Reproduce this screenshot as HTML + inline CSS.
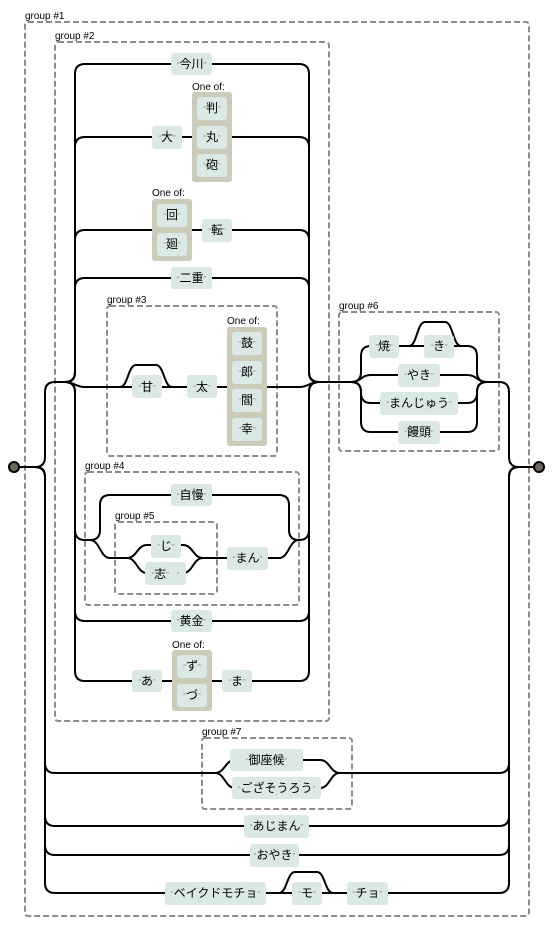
<!DOCTYPE html>
<html><head><meta charset="utf-8"><style>
html,body{margin:0;padding:0;background:#fff;}
svg{display:block;}
text{font-family:"Liberation Sans","Noto Sans CJK JP",sans-serif;}
.lbl{font-size:12px;fill:#000;}
.q{font-size:8px;fill:#888;}
.cap{font-size:10px;fill:#000;}
.box{fill:#dae9e5;}
.oneof{fill:#cbcbba;}
.grp{fill:none;stroke:#908c83;stroke-width:2;stroke-dasharray:6,3;}
#paths path{fill:none;stroke:#000;stroke-width:2;}
</style></head><body>
<svg id="s" width="554" height="926" viewBox="0 0 554 926" xmlns="http://www.w3.org/2000/svg">
<rect class="grp" x="25" y="22" width="504" height="894" rx="3"/>
<text class="cap" x="25" y="19">group #1</text>
<rect class="grp" x="55" y="42" width="274" height="679" rx="3"/>
<text class="cap" x="55" y="39">group #2</text>
<rect class="grp" x="107" y="306" width="170" height="150" rx="3"/>
<text class="cap" x="107" y="303">group #3</text>
<rect class="grp" x="85" y="472" width="214" height="133" rx="3"/>
<text class="cap" x="85" y="469">group #4</text>
<rect class="grp" x="115" y="522" width="102" height="72" rx="3"/>
<text class="cap" x="115" y="519">group #5</text>
<rect class="grp" x="339" y="312" width="160" height="139" rx="3"/>
<text class="cap" x="339" y="309">group #6</text>
<rect class="grp" x="202" y="738" width="150" height="71" rx="3"/>
<text class="cap" x="202" y="735">group #7</text>
<g id="paths"></g>
<circle cx="14" cy="467" r="5" fill="#6b6659" stroke="#000" stroke-width="2"/>
<circle cx="539" cy="467" r="5" fill="#6b6659" stroke="#000" stroke-width="2"/>

<text class="cap" x="192" y="90">One of:</text>
<rect class="oneof" x="192" y="92" width="40" height="90" rx="3"/>
<text class="cap" x="152" y="196">One of:</text>
<rect class="oneof" x="152" y="199" width="40" height="62" rx="3"/>
<text class="cap" x="227" y="324">One of:</text>
<rect class="oneof" x="227" y="327" width="40" height="119" rx="3"/>
<text class="cap" x="172" y="648">One of:</text>
<rect class="oneof" x="172" y="650" width="40" height="61" rx="3"/>

<g id="boxes"></g>
<g id="texts">
<text class="lbl" x="191.5" y="68" text-anchor="middle"><tspan class="q">“</tspan>今川<tspan class="q">”</tspan></text>
<text class="lbl" x="167" y="141" text-anchor="middle"><tspan class="q">“</tspan>大<tspan class="q">”</tspan></text>
<text class="lbl" x="212" y="112" text-anchor="middle"><tspan class="q">“</tspan>判<tspan class="q">”</tspan></text>
<text class="lbl" x="212" y="141" text-anchor="middle"><tspan class="q">“</tspan>丸<tspan class="q">”</tspan></text>
<text class="lbl" x="212" y="169" text-anchor="middle"><tspan class="q">“</tspan>砲<tspan class="q">”</tspan></text>
<text class="lbl" x="172" y="219" text-anchor="middle"><tspan class="q">“</tspan>回<tspan class="q">”</tspan></text>
<text class="lbl" x="172" y="248" text-anchor="middle"><tspan class="q">“</tspan>廻<tspan class="q">”</tspan></text>
<text class="lbl" x="217" y="234" text-anchor="middle"><tspan class="q">“</tspan>転<tspan class="q">”</tspan></text>
<text class="lbl" x="191.5" y="282" text-anchor="middle"><tspan class="q">“</tspan>二重<tspan class="q">”</tspan></text>
<text class="lbl" x="147" y="391" text-anchor="middle"><tspan class="q">“</tspan>甘<tspan class="q">”</tspan></text>
<text class="lbl" x="202" y="391" text-anchor="middle"><tspan class="q">“</tspan>太<tspan class="q">”</tspan></text>
<text class="lbl" x="247" y="347" text-anchor="middle"><tspan class="q">“</tspan>鼓<tspan class="q">”</tspan></text>
<text class="lbl" x="247" y="376" text-anchor="middle"><tspan class="q">“</tspan>郎<tspan class="q">”</tspan></text>
<text class="lbl" x="247" y="404" text-anchor="middle"><tspan class="q">“</tspan>閻<tspan class="q">”</tspan></text>
<text class="lbl" x="247" y="433" text-anchor="middle"><tspan class="q">“</tspan>幸<tspan class="q">”</tspan></text>
<text class="lbl" x="191.5" y="499" text-anchor="middle"><tspan class="q">“</tspan>自慢<tspan class="q">”</tspan></text>
<text class="lbl" x="166" y="550" text-anchor="middle"><tspan class="q">“</tspan>じ<tspan class="q">”</tspan></text>
<text class="lbl" x="165.5" y="578" text-anchor="middle"><tspan class="q">“</tspan>志<tspan class="q">”　”</tspan></text>
<text class="lbl" x="247.5" y="562" text-anchor="middle"><tspan class="q">“</tspan>まん<tspan class="q">”</tspan></text>
<text class="lbl" x="191.5" y="625" text-anchor="middle"><tspan class="q">“</tspan>黄金<tspan class="q">”</tspan></text>
<text class="lbl" x="147" y="685" text-anchor="middle"><tspan class="q">“</tspan>あ<tspan class="q">”</tspan></text>
<text class="lbl" x="192" y="670" text-anchor="middle"><tspan class="q">“</tspan>ず<tspan class="q">”</tspan></text>
<text class="lbl" x="192" y="699" text-anchor="middle"><tspan class="q">“</tspan>づ<tspan class="q">”</tspan></text>
<text class="lbl" x="237" y="685" text-anchor="middle"><tspan class="q">“</tspan>ま<tspan class="q">”</tspan></text>
<text class="lbl" x="384" y="350" text-anchor="middle"><tspan class="q">“</tspan>焼<tspan class="q">”</tspan></text>
<text class="lbl" x="439" y="350" text-anchor="middle"><tspan class="q">“</tspan>き<tspan class="q">”</tspan></text>
<text class="lbl" x="419" y="379" text-anchor="middle"><tspan class="q">“</tspan>やき<tspan class="q">”</tspan></text>
<text class="lbl" x="419" y="407" text-anchor="middle"><tspan class="q">“</tspan>まんじゅう<tspan class="q">”</tspan></text>
<text class="lbl" x="419" y="436" text-anchor="middle"><tspan class="q">“</tspan>饅頭<tspan class="q">”</tspan></text>
<text class="lbl" x="266.5" y="764" text-anchor="middle"><tspan class="q">“</tspan>御座候<tspan class="q">”</tspan></text>
<text class="lbl" x="276.5" y="792" text-anchor="middle"><tspan class="q">“</tspan>ござそうろう<tspan class="q">”</tspan></text>
<text class="lbl" x="276.5" y="830" text-anchor="middle"><tspan class="q">“</tspan>あじまん<tspan class="q">”</tspan></text>
<text class="lbl" x="274.5" y="859" text-anchor="middle"><tspan class="q">“</tspan>おやき<tspan class="q">”</tspan></text>
<text class="lbl" x="215.5" y="897" text-anchor="middle"><tspan class="q">“</tspan>ベイクドモチョ<tspan class="q">”</tspan></text>
<text class="lbl" x="307" y="897" text-anchor="middle"><tspan class="q">“</tspan>モ<tspan class="q">”</tspan></text>
<text class="lbl" x="367.5" y="897" text-anchor="middle"><tspan class="q">“</tspan>チョ<tspan class="q">”</tspan></text>
</g>
</svg>
<script>
(function(){
var NS="http://www.w3.org/2000/svg";
var P=document.getElementById("paths"),B=document.getElementById("boxes");
function p(d){var e=document.createElementNS(NS,"path");e.setAttribute("d",d);P.appendChild(e);}
function box(x,y,w,h){var e=document.createElementNS(NS,"rect");e.setAttribute("x",x);e.setAttribute("y",y);e.setAttribute("width",w);e.setAttribute("height",h);e.setAttribute("rx",3);e.setAttribute("class","box");B.appendChild(e);}
function alt(xl,xr,ym,ys,noH){
 noH=noH||[];
 ys.forEach(function(y){
  var dy=y-ym,s=dy>0?1:-1;
  if(dy===0){p("M"+xl+" "+ym+"H"+(xl+20));p("M"+(xr-20)+" "+ym+"H"+xr);}
  else if(Math.abs(dy)<20){
   p("M"+xl+" "+ym+"C"+(xl+10)+" "+ym+" "+(xl+10)+" "+y+" "+(xl+20)+" "+y);
   p("M"+(xr-20)+" "+y+"C"+(xr-10)+" "+y+" "+(xr-10)+" "+ym+" "+xr+" "+ym);
  } else {
   p("M"+xl+" "+ym+"q10 0 10 "+(10*s)+"V"+(y-10*s)+"q0 "+(10*s)+" 10 "+(10*s));
   p("M"+(xr-20)+" "+y+"q10 0 10 "+(-10*s)+"V"+(ym+10*s)+"q0 "+(-10*s)+" 10 "+(-10*s));
  }
  if(noH.indexOf(y)<0)p("M"+(xl+20)+" "+y+"H"+(xr-20));
 });
}
p("M19 467H35");p("M519 467H534");
alt(35,519,467,[382,773,826,855,893],[382,773,893]);
p("M55 382H65");p("M319 382H351");p("M487 382H499");
alt(65,319,382,[64,137,230,278,387,540,621,681],[540]);
alt(351,487,382,[346,375,403,432]);
alt(90,299,540,[495,558],[558]);
p("M85 540H90");
p("M110 558H127");
alt(127,203,558,[545,573]);
p("M203 558H279");
p("M55 773H215");p("M340 773H499");
alt(215,340,773,[760,788]);
p("M55 893H499");
p("M120 387c8 0 8 -22 16 -22h20c8 0 8 22 16 22");
p("M409 346c8 0 8 -24 16 -24h20c8 0 8 24 16 24");
p("M279 893c8 0 8 -21 16 -21h22c8 0 8 21 16 21");
box(171,53,41,22);box(152,126,30,23);box(197,97,30,23);box(197,126,30,23);box(197,154,30,23);
box(157,204,30,23);box(157,233,30,23);box(202,219,30,23);box(171,267,41,22);
box(132,375,30,23);box(187,375,30,23);
box(232,332,30,23);box(232,361,30,23);box(232,389,30,23);box(232,418,30,23);
box(171,484,41,22);box(151,535,30,23);box(145,562,41,23);box(227,547,41,23);
box(171,610,41,22);box(132,670,30,22);box(177,655,30,23);box(177,684,30,23);box(222,670,30,22);
box(369,335,30,23);box(424,335,30,23);box(398,364,42,23);box(380,392,78,23);box(398,421,42,23);
box(230,749,73,22);box(232,777,89,22);box(244,815,65,23);box(250,844,49,23);
box(165,882,101,23);box(292,882,30,23);box(347,882,41,23);
})();
</script>
</body></html>
